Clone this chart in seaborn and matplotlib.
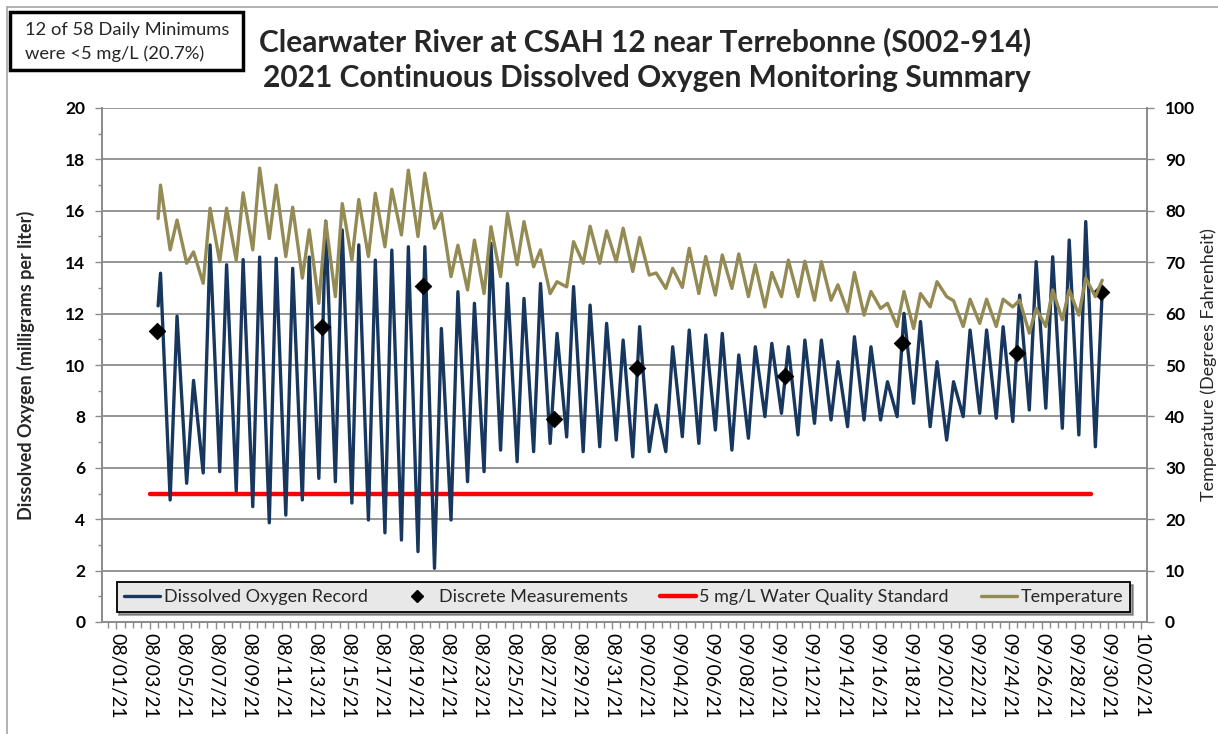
import numpy as np
import pandas as pd
import matplotlib
matplotlib.use("Agg")
import matplotlib.pyplot as plt
import matplotlib.dates as mdates
from matplotlib.lines import Line2D
from matplotlib.patches import Rectangle
import seaborn as sns

sns.set_theme(style="white")
plt.rcParams['font.family'] = ['Lato', 'DejaVu Sans']

# ---- data (one entry per day, 08/03 .. 09/29) ----
days = pd.date_range('2021-08-03', '2021-09-29', freq='D')

# dissolved oxygen, daily low (early morning) and daily high (afternoon), mg/L
do_start = ('2021-08-03 12:30', 12.3)
do_min = [np.nan, 4.75, 5.4, 5.8, 5.85, 5.1, 4.49, 3.86, 4.16, 4.75, 5.59, 5.46, 4.63, 3.97,
          3.47, 3.19, 2.74, 2.09, 3.97, 5.46, 5.85, 6.69, 6.24, 6.63, 6.95, 7.2, 6.63, 6.82, 7.08,
          6.43, 6.63, 6.63, 7.21, 6.95, 7.47, 6.69, 7.15, 7.99, 8.12, 7.28, 7.73, 7.86, 7.6,
          7.86, 7.86, 7.99, 8.51, 7.6, 7.08, 7.99, 8.12, 7.93, 7.8, 8.25, 8.32, 7.54, 7.28, 6.82]
do_max = [13.57, 11.9, 9.4, 14.67, 13.9, 14.1, 14.2, 14.15, 13.76, 14.2, 15.6, 15.25, 14.67,
          14.08, 14.47, 14.6, 14.6, 11.42, 12.85, 12.4, 14.73, 13.17, 12.59, 13.17, 11.23, 13.05,
          12.33, 11.62, 10.97,
          11.49, 8.44, 10.71, 11.36, 11.17, 11.23, 10.39, 10.71, 10.84, 10.71, 10.97, 10.97,
          10.13, 11.1, 10.71, 9.35, 12.01, 11.69, 10.13, 9.35, 11.36, 11.36, 11.49, 12.72, 14.02,
          14.21, 14.86, 15.58, 12.92]

# water temperature, daily low / high, deg F
temp_start = ('2021-08-03 12:30', 78.5)
temp_min = [np.nan, 72.4, 69.8, 65.9, 70.1, 70.4, 72.4, 74.6, 71.1, 66.9, 62.0, 63.3, 70.4, 71.1,
            73.0, 75.3, 75.0, 76.6, 67.2, 64.6, 63.9, 67.2, 69.5, 69.1, 63.9, 65.2, 69.8, 69.8,
            70.1,
            68.2, 67.5, 64.9, 65.1, 63.9, 63.6, 64.9, 63.3, 61.3, 63.3, 63.3, 62.6, 62.6, 60.4,
            59.7, 61.0, 57.5, 57.1, 61.3, 63.3, 57.5, 58.1, 57.5, 61.3, 56.2, 57.5, 58.8, 59.7, 63.3]
temp_max = [85.0, 78.2, 72.0, 80.5, 80.5, 83.5, 88.3, 85.0, 80.7, 76.3, 77.9, 81.4, 82.2, 83.4,
            84.2, 87.9, 87.3, 79.5, 73.3, 74.3, 76.9, 79.5, 77.9, 72.4, 66.2, 74.0, 77.0, 76.1,
            76.6,
            74.8, 67.9, 68.8, 72.7, 71.1, 71.4, 71.6, 69.5, 68.0, 70.4, 70.2, 70.1, 65.6, 68.0,
            64.3, 62.0, 64.3, 63.9, 66.2, 62.5, 62.8, 62.8, 62.8, 62.6, 61.0, 64.6, 64.6, 66.9, 66.5]

# discrete field measurements
meas_times = ['2021-08-03 11:00', '2021-08-13 11:00', '2021-08-19 13:30', '2021-08-27 11:30',
              '2021-09-01 11:45', '2021-09-10 11:00', '2021-09-17 13:30', '2021-09-24 11:45',
              '2021-09-29 13:45']
meas_vals = [11.32, 11.48, 13.07, 7.9, 9.88, 9.57, 10.86, 10.47, 12.84]

std_dates = ['2021-08-03', '2021-09-29']
std_vals = [5, 5]

tick_dates = pd.date_range('2021-08-01', '2021-10-02', freq='2D')


def daily_series(start, lows, highs):
    t = [pd.Timestamp(start[0])]
    v = [start[1]]
    for d, lo, hi in zip(days, lows, highs):
        if not np.isnan(lo):
            t.append(d + pd.Timedelta(hours=6))
            v.append(lo)
        t.append(d + pd.Timedelta(hours=16))
        v.append(hi)
    return pd.DataFrame({'time': t, 'value': v})


do_df = daily_series(do_start, do_min, do_max)
temp_df = daily_series(temp_start, temp_min, temp_max)
meas_df = pd.DataFrame({'time': pd.to_datetime(meas_times), 'value': meas_vals})

navy = '#17375E'
tan = '#948A54'
grey = '#8C8C8C'

W, H = 1218, 734
fig = plt.figure(figsize=(W / 100, H / 100), dpi=100)
ax = fig.add_axes([102 / W, 1 - 622 / H, (1147 - 102) / W, (622 - 108) / H])
ax2 = ax.twinx()

sns.lineplot(data=do_df, x='time', y='value', ax=ax, color=navy, linewidth=2.4,
             estimator=None, zorder=3, solid_joinstyle='round')
ax.plot(pd.to_datetime(std_dates), std_vals, color='#FF0000', linewidth=3.2,
        solid_capstyle='round', zorder=2)
sns.lineplot(data=temp_df, x='time', y='value', ax=ax2, color=tan, linewidth=2.4,
             estimator=None, zorder=2, solid_joinstyle='round')
sns.scatterplot(data=meas_df, x='time', y='value', ax=ax, marker='D', s=70, color='black',
                edgecolor='black', zorder=4)

# axes
ax.set_xlim(pd.Timestamp('2021-07-31 03:00'), pd.Timestamp('2021-10-02 09:00'))
ax.set_ylim(0, 20)
ax2.set_ylim(0, 100)
ax.set_yticks(range(0, 21, 2))
ax.set_yticks(range(1, 20, 2), minor=True)
ax2.set_yticks(range(0, 101, 10))
ax.set_xticks(tick_dates)
ax.set_xticks(pd.date_range('2021-07-31 12:00', '2021-10-02 06:00', freq='12h'), minor=True)
ax.xaxis.set_major_formatter(mdates.DateFormatter('%m/%d/%y'))
ax.tick_params(axis='x', which='both', direction='out', bottom=True, colors=grey,
               labelcolor='black', labelsize=14, labelrotation=-90, pad=3)
ax.tick_params(axis='x', which='major', length=5, width=1)
ax.tick_params(axis='x', which='minor', length=4, width=1)
ax.tick_params(axis='y', which='both', direction='out', left=True, colors=grey,
               labelcolor='black', labelsize=12.5, pad=7)
ax.tick_params(axis='y', which='major', length=5, width=1)
ax.tick_params(axis='y', which='minor', length=3, width=1)
ax2.tick_params(axis='y', direction='out', right=True, length=5, width=1, colors=grey,
                labelcolor='black', labelsize=12.5, pad=8)
for lab in ax.get_yticklabels() + ax2.get_yticklabels():
    lab.set_fontweight('bold')
for lab in ax.get_xticklabels():
    lab.set_va('top')
    lab.set_ha('center')

ax.yaxis.grid(True, which='major', color=grey, linewidth=1.3)
ax.set_axisbelow(True)
ax.set_xlabel('')
ax.set_ylabel('Dissolved Oxygen (milligrams per liter)', fontsize=13, fontweight='bold')
ax.yaxis.set_label_coords(-0.064, 0.5)
ax2.set_xlabel('')
ax2.set_ylabel('Temperature (Degrees Fahrenheit)', fontsize=13, rotation=90)
ax2.yaxis.set_label_coords(1.051, 0.5)

for a in (ax, ax2):
    a.spines['top'].set_visible(False)
    for s in ('left', 'right', 'bottom'):
        a.spines[s].set_color(grey)
        a.spines[s].set_linewidth(1.3)

# legend
handles = [Line2D([], [], color=navy, lw=2.4),
           Line2D([], [], color='black', marker='D', ls='none', markersize=6),
           Line2D([], [], color='#FF0000', lw=3.2),
           Line2D([], [], color=tan, lw=2.4)]
labels = ['Dissolved Oxygen Record', 'Discrete Measurements', '5 mg/L Water Quality Standard',
          'Temperature']
leg = ax2.legend(handles, labels, ncol=4, loc='lower left', mode='expand',
                 bbox_to_anchor=(0.014, 0.019, 0.97, 0.063), fontsize=13, frameon=True,
                 fancybox=False, shadow=True, handlelength=2.0, handletextpad=0.2,
                 borderaxespad=0, columnspacing=0.8)
leg.get_frame().set_facecolor('#E8E8E8')
leg.get_frame().set_edgecolor('black')
leg.get_frame().set_linewidth(1.3)

# titles
fig.text(645 / W, 1 - 42 / H, 'Clearwater River at CSAH 12 near Terrebonne (S002-914)',
         ha='center', va='center', fontsize=21.5, fontweight='bold')
fig.text(647 / W, 1 - 78 / H, '2021 Continuous Dissolved Oxygen Monitoring Summary',
         ha='center', va='center', fontsize=21.5, fontweight='bold')

# summary box
fig.patches.append(Rectangle((10 / W, 1 - 70 / H), 233 / W, 58 / H, transform=fig.transFigure,
                             facecolor='white', edgecolor='black', linewidth=2.5))
fig.text(25 / W, 1 - 30 / H, '12 of 58 Daily Minimums', ha='left', va='center', fontsize=13.2)
fig.text(25 / W, 1 - 54 / H, 'were <5 mg/L (20.7%)', ha='left', va='center', fontsize=13.2)

# outer chart border
fig.add_artist(Line2D([7 / W, 1.0], [1 - 7 / H, 1 - 7 / H], transform=fig.transFigure,
                      color='#A6A6A6', lw=1.2))
fig.add_artist(Line2D([7 / W, 7 / W], [0, 1 - 7 / H], transform=fig.transFigure,
                      color='#A6A6A6', lw=1.2))

fig.savefig('out.png', dpi=100, facecolor='white')
